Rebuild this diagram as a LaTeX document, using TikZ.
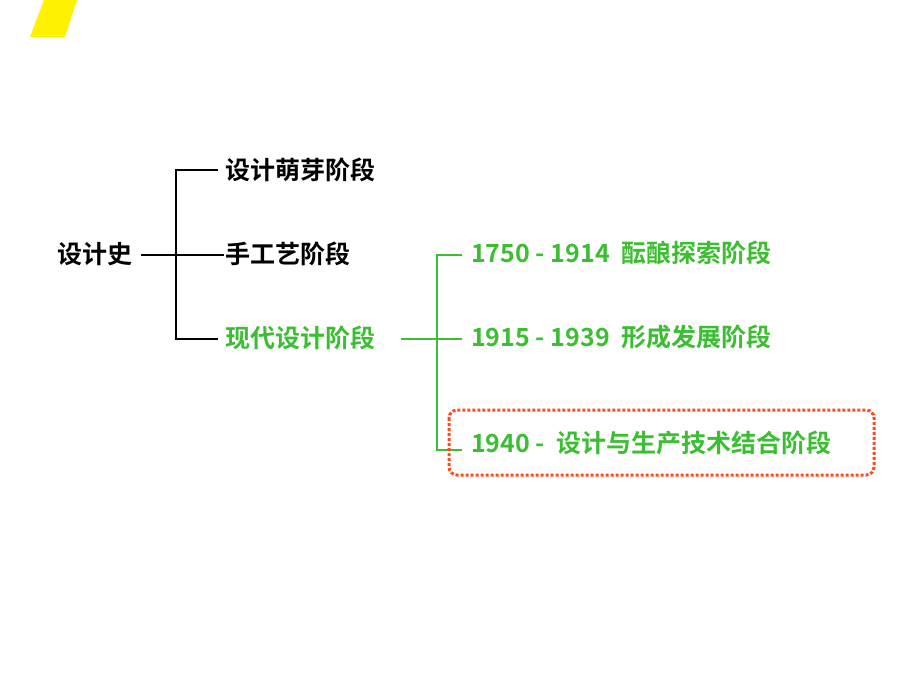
\documentclass[tikz,border=0pt]{standalone}
\usepackage{fontspec}
\setmainfont{Noto Sans CJK SC}[BoldFont={* Bold}]
\definecolor{gr}{HTML}{3CBE32}
\definecolor{rd}{HTML}{FF4A1A}
\begin{document}
\begin{tikzpicture}[x=1pt,y=-1pt,
  lbl/.style={anchor=west,inner sep=0pt,font=\fontsize{25}{28}\selectfont\bfseries},
  bl/.style={line width=2.5pt,black},
  gl/.style={line width=2.5pt,gr}]
\useasboundingbox (0,0) rectangle (920,690);
\fill[yellow] (44,0) -- (77,0) -- (65,37) -- (30,37) -- cycle;
\node[lbl] (root) at (57,254) {设计史};
\node[lbl] (a) at (225,170) {设计萌芽阶段};
\node[lbl] (b) at (225,254) {手工艺阶段};
\node[lbl,text=gr] (c) at (225,338) {现代设计阶段};
\node[lbl,text=gr] (d) at (471,253) {1750 - 1914\ \ 酝酿探索阶段};
\node[lbl,text=gr] (e) at (471,337) {1915 - 1939\ \ 形成发展阶段};
\node[lbl,text=gr] (f) at (471,443) {1940 -\ \ 设计与生产技术结合阶段};
\draw[bl] (141,255) -- (224,255);
\draw[bl] (218,170) -- (176,170) -- (176,339) -- (218,339);
\draw[gl] (401,339) -- (462,339);
\draw[gl] (462,255) -- (437,255) -- (437,450) -- (462,450);
\draw[rd,line width=3pt,dotted,rounded corners=8pt] (449,410) rectangle (874,475);
\end{tikzpicture}
\end{document}
